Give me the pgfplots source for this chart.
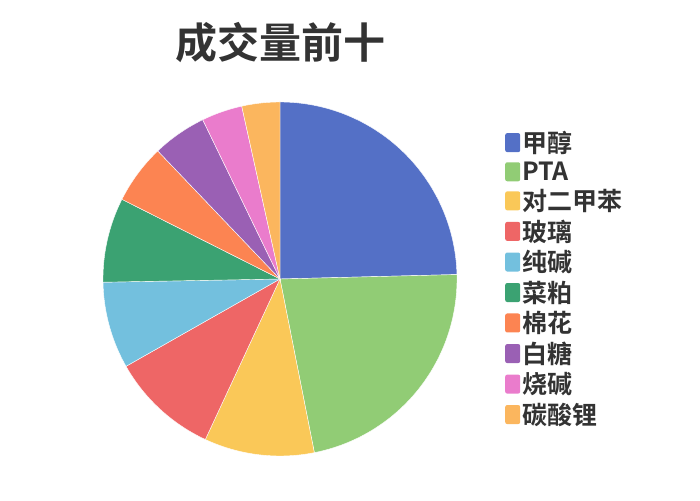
\documentclass[border=0pt]{standalone}
\usepackage{fontspec}
\setmainfont{Noto Sans CJK SC}[BoldFont={Noto Sans CJK SC Bold}]
\usepackage{pgfplots}
\usepackage{pgfplotstable}
\pgfplotsset{compat=1.18}
\definecolor{c0}{HTML}{5470C6}
\definecolor{c1}{HTML}{91CC75}
\definecolor{c2}{HTML}{FAC858}
\definecolor{c3}{HTML}{EE6666}
\definecolor{c4}{HTML}{73C0DE}
\definecolor{c5}{HTML}{3BA272}
\definecolor{c6}{HTML}{FC8452}
\definecolor{c7}{HTML}{9A60B4}
\definecolor{c8}{HTML}{EA7CCC}
\definecolor{c9}{HTML}{FBB65E}
\definecolor{txt}{HTML}{333333}

\pgfplotstableread{
name value
甲醇 24.60
PTA 22.29
对二甲苯 10.04
玻璃 9.86
纯碱 7.92
菜粕 7.72
棉花 5.44
白糖 4.94
烧碱 3.72
碳酸锂 3.47
}\data

\begin{document}
\begin{tikzpicture}
\path[use as bounding box] (0pt,0pt) rectangle (700pt,500pt);
\node[font=\fontsize{42}{42}\selectfont\bfseries, text=txt] at (280pt,457pt) {成交量前十};
\begin{axis}[
  hide axis,
  x=177pt, y=177pt,
  xmin=-1, xmax=1, ymin=-1, ymax=1,
  at={(280pt,221pt)}, anchor=center,
  clip=false,
  legend style={at={(1.1356,0.9237)}, anchor=north west, draw=none, fill=none,
    font=\fontsize{25}{25}\selectfont\bfseries\color{txt}, row sep=3.7pt, inner sep=0pt,
    cells={anchor=west}, /tikz/every even column/.append style={column sep=2.5pt}},
  legend image code/.code={\fill[#1, draw=none, rounded corners=2pt] (0pt,-9.5pt) rectangle (15pt,9.5pt);},
]
\gdef\cum{90}
\foreach \i in {0,...,9}{
  \pgfplotstablegetelem{\i}{value}\of\data
  \pgfmathsetmacro\stop{\cum-\pgfplotsretval*3.6}
  \pgfplotstablegetelem{\i}{name}\of\data
  \edef\temp{\noexpand\addplot[fill=c\i, draw=white, line width=0.4pt, domain=\stop:\cum, samples=90, variable=x] ({cos(x)},{sin(x)}) -- (axis cs:0,0) -- cycle; \noexpand\addlegendentry{\pgfplotsretval}}
  \temp
  \xdef\cum{\stop}
}
\end{axis}
\end{tikzpicture}
\end{document}
